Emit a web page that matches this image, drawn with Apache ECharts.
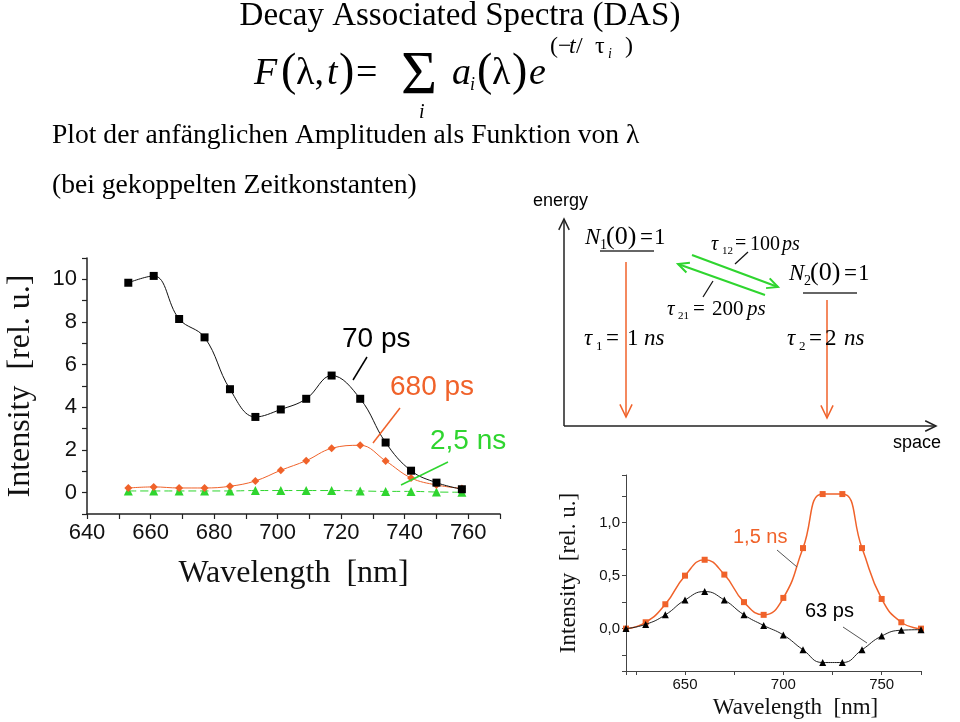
<!DOCTYPE html>
<html><head><meta charset="utf-8">
<script src="https://cdn.jsdelivr.net/npm/echarts@6/dist/echarts.min.js"></script>
<style>html,body{margin:0;padding:0;background:#fff}#c{width:960px;height:722px}</style>
</head><body><div id="c"></div>
<script>
// ---- Data: left chart (DAS, coupled time constants) ----
const wavelengthsA = [653,661,669,677,685,693,701,709,717,726,734,742,750,758];
const das70ps  = [9.84,10.16,8.14,7.28,4.85,3.55,3.9,4.4,5.49,4.4,2.35,1.03,0.47,0.16];
const das680ps = [0.22,0.27,0.22,0.22,0.3,0.55,1.05,1.5,2.08,2.22,1.49,0.69,0.36,0.2];
const das25ns  = [0.08,0.08,0.08,0.08,0.08,0.1,0.1,0.1,0.1,0.08,0.06,0.06,0.03,0.02];
const labelsA  = ['70 ps','680 ps','2,5 ns'];
// ---- Data: bottom-right chart ----
const wavelengthsB = [620,630,640,650,660,670,680,690,700,710,720,730,740,750,760,770];
const das15ns = [0.0,0.06,0.23,0.5,0.65,0.51,0.25,0.13,0.29,0.76,1.27,1.27,0.76,0.28,0.06,0.0];
const das63ps = [0.0,0.04,0.13,0.27,0.35,0.27,0.13,0.03,-0.06,-0.2,-0.32,-0.32,-0.2,-0.07,-0.015,-0.01];
const labelsB = ['1,5 ns','63 ps'];

const SERIF = '"Liberation Serif","Times New Roman",serif';
const SANS = '"Liberation Sans",Arial,sans-serif';
const ORANGE = '#f0622a', GREEN = '#2fd52f';

const pairs = (xs, ys) => xs.map((x, i) => [x, ys[i]]);

function T(x, y, text, font, opts) {
  opts = opts || {};
  const st = {text: text, font: font, fill: opts.fill || '#000',
    align: opts.align || 'left', textAlign: opts.align || 'left',
    verticalAlign: opts.va || 'middle', textVerticalAlign: opts.va || 'middle'};
  return {type: 'text', x: x, y: y, style: st, z: 10};
}
function L(x1, y1, x2, y2, color, w) {
  return {type: 'line', shape: {x1, y1, x2, y2}, style: {stroke: color, lineWidth: w || 1}, z: 10};
}
function arrow(x1, y1, x2, y2, color, w, len) {
  const a = Math.atan2(y2 - y1, x2 - x1), ang = 0.45;
  return [L(x1, y1, x2, y2, color, w),
    {type: 'polyline', z: 10, shape: {points: [
      [x2 - len * Math.cos(a - ang), y2 - len * Math.sin(a - ang)], [x2, y2],
      [x2 - len * Math.cos(a + ang), y2 - len * Math.sin(a + ang)]]},
     style: {stroke: color, lineWidth: w, fill: null}}];
}
const it = s => 'italic ' + s + 'px ' + SERIF;
const up = s => s + 'px ' + SERIF;

const g = [];
// Title and formula
g.push(T(460, 16, 'Decay Associated Spectra (DAS)', up(33), {align: 'center'}));
g.push(T(254, 74, 'F', it(38)));
g.push(T(281, 73, '(', up(46)));
g.push(T(296, 74, 'λ,', up(38)));
g.push(T(327, 74, 't', it(38)));
g.push(T(339, 73, ')', up(46)));
g.push(T(356, 74, '=', up(38)));
g.push(T(401, 77, 'Σ', up(62)));
g.push(T(419, 113, 'i', it(20)));
g.push(T(452, 74, 'a', it(38)));
g.push(T(470, 85, 'i', it(18)));
g.push(T(477, 73, '(', up(46)));
g.push(T(492, 74, 'λ', up(38)));
g.push(T(512, 73, ')', up(46)));
g.push(T(529, 74, 'e', it(38)));
g.push(T(550, 47, '(−', up(24)));
g.push(T(569, 47, 't', it(24)));
g.push(T(576, 47, '/', up(24)));
g.push(T(595, 47, 'τ', up(24)));
g.push(T(608, 54, 'i', it(14)));
g.push(T(625, 47, ')', up(24)));
g.push(T(52, 136, 'Plot der anfänglichen Amplituden als Funktion von λ', up(27.6)));
g.push(T(52, 186, '(bei gekoppelten Zeitkonstanten)', up(27.6)));

// Energy-level diagram
g.push(T(533, 201, 'energy', '18px ' + SANS));
g.push(T(893, 443, 'space', '18px ' + SANS));
g.push(...arrow(564, 426, 564, 219, '#222', 1.5, 12));
g.push(...arrow(564, 426, 936, 426, '#222', 1.5, 12));
// N1(0)=1
g.push(T(585, 238, 'N', it(23)));
g.push(T(600, 245, '1', up(14)));
g.push(T(606, 237, '(0)', up(26)));
g.push(T(640, 238, '=', up(23)));
g.push(T(654, 238, '1', up(23)));
g.push(L(600, 251, 654, 251, '#333', 1.5));
// N2(0)=1
g.push(T(789, 274, 'N', it(23)));
g.push(T(804, 281, '2', up(14)));
g.push(T(810, 273, '(0)', up(26)));
g.push(T(844, 274, '=', up(23)));
g.push(T(858, 274, '1', up(23)));
g.push(L(803, 293, 857, 293, '#333', 1.5));
g.push(...arrow(626, 262, 626, 417, ORANGE, 1.5, 14));
g.push(...arrow(827, 300, 827, 418, ORANGE, 1.5, 14));
// tau1 = 1 ns
g.push(T(584, 339, 'τ', it(23)));
g.push(T(596, 347, '1', up(13)));
g.push(T(606, 339, '=', up(23)));
g.push(T(627, 339, '1', up(23)));
g.push(T(644, 339, 'ns', it(23)));
// tau2 = 2 ns
g.push(T(787, 339, 'τ', it(23)));
g.push(T(799, 347, '2', up(13)));
g.push(T(809, 339, '=', up(23)));
g.push(T(825, 339, '2', up(23)));
g.push(T(844, 339, 'ns', it(23)));
g.push(...arrow(692, 255, 778, 287, GREEN, 2, 12));
g.push(...arrow(765, 295, 678, 264, GREEN, 2, 12));
// tau12 = 100 ps
g.push(T(711, 245, 'τ', it(20)));
g.push(T(722, 251, '12', up(11)));
g.push(T(735, 244, '=', up(20)));
g.push(T(750, 245, '100', up(20)));
g.push(T(782, 245, 'ps', it(20)));
g.push(L(748, 252, 735, 264, '#111', 1.2));
// tau21 = 200 ps
g.push(T(667, 309, 'τ', it(21)));
g.push(T(678, 316, '21', up(11)));
g.push(T(693, 309, '=', up(21)));
g.push(T(712, 309, '200', up(21)));
g.push(T(747, 309, 'ps', it(21)));
g.push(L(713, 281, 703, 297, '#111', 1.2));

// Left chart annotations
g.push(T(342, 339, labelsA[0], '28px ' + SANS, {fill: '#000'}));
g.push(L(353, 380, 367, 357, '#000', 1.5));
g.push(T(390, 387, labelsA[1], '28px ' + SANS, {fill: ORANGE}));
g.push(L(373, 443, 400, 408, ORANGE, 1.5));
g.push(T(430, 441, labelsA[2], '28px ' + SANS, {fill: GREEN}));
g.push(L(401, 485, 448, 462, GREEN, 1.5));
// Bottom-right chart annotations
g.push(T(733, 537, labelsB[0], '20px ' + SANS, {fill: ORANGE}));
g.push(L(777, 550, 797, 567, '#555', 1));
g.push(T(805, 611, labelsB[1], '20px ' + SANS, {fill: '#000'}));
g.push(L(843, 627, 867, 643, '#555', 1));

const chart = echarts.init(document.getElementById('c'), null, {renderer: 'canvas'});
chart.setOption({
  animation: false,
  backgroundColor: '#fff',
  grid: [
    {left: 87, top: 258, width: 413, height: 256},
    {left: 626, top: 475, width: 295, height: 196}
  ],
  xAxis: [
    {gridIndex: 0, type: 'value', min: 640, max: 770, interval: 10,
     name: 'Wavelength  [nm]', nameLocation: 'middle', nameGap: 44,
     nameTextStyle: {fontFamily: SERIF, fontSize: 32, color: '#111', padding: [0, 0, 0, 0]},
     axisLine: {onZero: false, lineStyle: {color: '#222', width: 1.5}},
     axisTick: {length: 5, lineStyle: {color: '#222', width: 1.2}},
     axisLabel: {color: '#111', fontFamily: SANS, fontSize: 22, margin: 8,
       formatter: v => (v % 20 === 0 && v <= 760) ? String(v) : ''},
     splitLine: {show: false}},
    {gridIndex: 1, type: 'value', min: 620, max: 770, splitNumber: 3,
     name: 'Wavelength  [nm]', nameLocation: 'middle', nameGap: 25,
     nameTextStyle: {fontFamily: SERIF, fontSize: 23, color: '#111', padding: [0, 0, 0, 44]},
     axisLine: {onZero: false, lineStyle: {color: '#444', width: 1}},
     axisTick: {length: 4, lineStyle: {color: '#444'}},
     minorTick: {show: true, splitNumber: 2, length: 4, lineStyle: {color: '#444'}},
     axisLabel: {color: '#111', fontFamily: SANS, fontSize: 15, margin: 6, showMinLabel: false, showMaxLabel: false},
     splitLine: {show: false}}
  ],
  yAxis: [
    {gridIndex: 0, type: 'value', min: -1, max: 11, interval: 1,
     name: 'Intensity  [rel. u.]', nameLocation: 'middle', nameGap: 50, nameRotate: 90,
     nameTextStyle: {fontFamily: SERIF, fontSize: 32, color: '#111'},
     axisLine: {onZero: false, lineStyle: {color: '#222', width: 1.5}},
     axisTick: {length: 5, lineStyle: {color: '#222', width: 1.2}},
     axisLabel: {color: '#111', fontFamily: SANS, fontSize: 22, margin: 10,
       formatter: v => (v >= 0 && v <= 10 && v % 2 === 0) ? String(v) : ''},
     splitLine: {show: false}},
    {gridIndex: 1, type: 'value', min: -0.4, max: 1.45, splitNumber: 4,
     name: 'Intensity  [rel. u.]', nameLocation: 'middle', nameGap: 46, nameRotate: 90,
     nameTextStyle: {fontFamily: SERIF, fontSize: 23, color: '#111'},
     axisLine: {onZero: false, lineStyle: {color: '#444', width: 1}},
     axisTick: {length: 4, lineStyle: {color: '#444'}},
     minorTick: {show: true, splitNumber: 2, length: 4, lineStyle: {color: '#444'}},
     axisLabel: {color: '#111', fontFamily: SANS, fontSize: 15, margin: 6, showMinLabel: false, showMaxLabel: false,
       formatter: v => v.toFixed(1).replace('.', ',')},
     splitLine: {show: false}}
  ],
  series: [
    {name: labelsA[0], type: 'line', xAxisIndex: 0, yAxisIndex: 0, data: pairs(wavelengthsA, das70ps),
     smooth: 0.4, symbol: 'rect', symbolSize: 8, itemStyle: {color: '#000'},
     lineStyle: {color: '#111', width: 1}, z: 5},
    {name: labelsA[1], type: 'line', xAxisIndex: 0, yAxisIndex: 0, data: pairs(wavelengthsA, das680ps),
     smooth: 0.4, symbol: 'diamond', symbolSize: 8, itemStyle: {color: ORANGE},
     lineStyle: {color: ORANGE, width: 1}, z: 4},
    {name: labelsA[2], type: 'line', xAxisIndex: 0, yAxisIndex: 0, data: pairs(wavelengthsA, das25ns),
     smooth: 0.4, symbol: 'triangle', symbolSize: 9, itemStyle: {color: GREEN},
     lineStyle: {color: GREEN, width: 1, type: [8, 4]}, z: 3},
    {name: labelsB[0], type: 'line', xAxisIndex: 1, yAxisIndex: 1, data: pairs(wavelengthsB, das15ns),
     smooth: 0.5, symbol: 'rect', symbolSize: 6, itemStyle: {color: ORANGE},
     lineStyle: {color: ORANGE, width: 1.5}, z: 4},
    {name: labelsB[1], type: 'line', xAxisIndex: 1, yAxisIndex: 1, data: pairs(wavelengthsB, das63ps),
     smooth: 0.5, symbol: 'triangle', symbolSize: 7, itemStyle: {color: '#000'},
     lineStyle: {color: '#222', width: 1}, z: 5}
  ],
  graphic: {elements: g}
});
</script></body></html>
